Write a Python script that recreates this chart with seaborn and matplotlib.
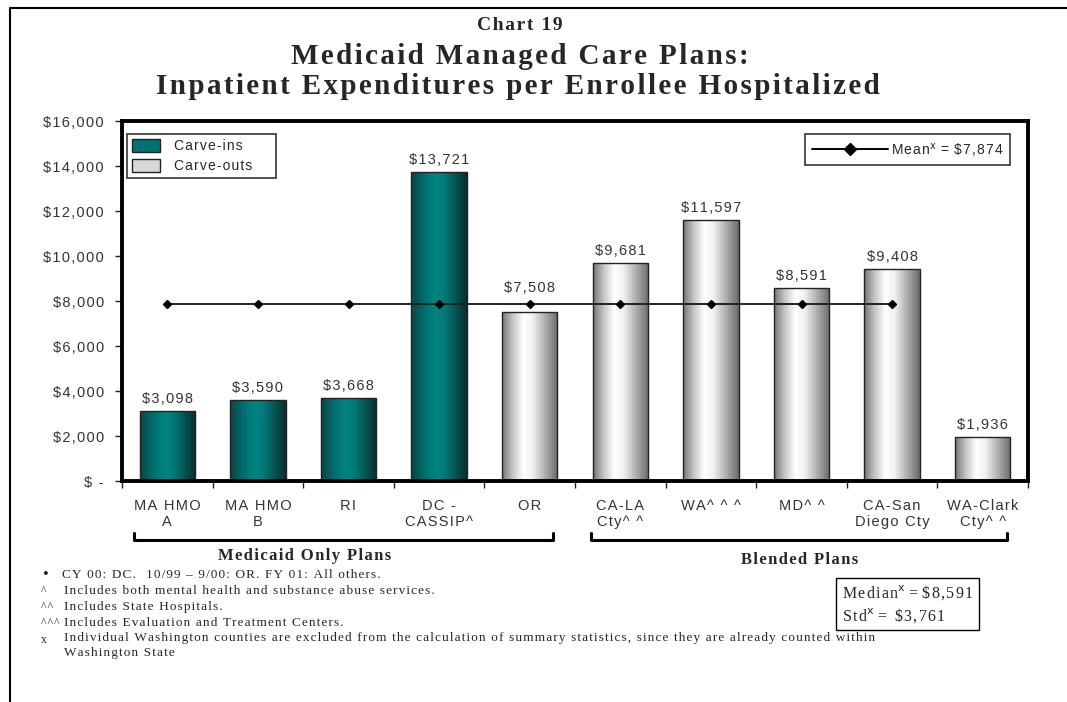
import numpy as np
import pandas as pd
import matplotlib
matplotlib.use("Agg")
import matplotlib.pyplot as plt
import seaborn as sns
from matplotlib.colors import LinearSegmentedColormap
from matplotlib.patches import Rectangle
from matplotlib.lines import Line2D

# ---- data ----
plans = ["MA HMO\nA", "MA HMO\nB", "RI", "DC -\nCASSIP^", "OR",
         "CA-LA\nCty^ ^", "WA^ ^ ^", "MD^ ^", "CA-San\nDiego Cty", "WA-Clark\nCty^ ^"]
values = [3098, 3590, 3668, 13721, 7508, 9681, 11597, 8591, 9408, 1936]
types = ["Carve-ins", "Carve-ins", "Carve-ins", "Carve-ins", "Carve-outs",
         "Carve-outs", "Carve-outs", "Carve-outs", "Carve-outs", "Carve-outs"]
mean_value = 7874
mean_n = 9  # mean line spans first 9 plans
yticks = [0, 2000, 4000, 6000, 8000, 10000, 12000, 14000, 16000]
ytick_labels = ["$ -", "$2,000", "$4,000", "$6,000", "$8,000", "$10,000",
                "$12,000", "$14,000", "$16,000"]
footnote_symbols = ["\u2022", "^", "^^", "^^^", "x"]
footnote_texts = [
    "CY 00: DC.  10/99 \u2013 9/00: OR. FY 01: All others.",
    "Includes both mental health and substance abuse services.",
    "Includes State Hospitals.",
    "Includes Evaluation and Treatment Centers.",
    "Individual Washington counties are excluded from the calculation of summary statistics, since they are already counted within\nWashington State",
]

HS = "\u200a"


def sp(s):
    """add hair spaces between characters (letter spacing)"""
    return "\n".join(HS.join(list(line)) for line in s.split("\n"))


df = pd.DataFrame({"plan": plans, "value": values, "type": types})

sns.set_theme(style="white")
SANS = ["Liberation Sans", "DejaVu Sans"]
SERIF = ["Liberation Serif", "DejaVu Serif"]
plt.rcParams["font.family"] = SANS

fig = plt.figure(figsize=(10.67, 7.02), dpi=100)
ax = fig.add_axes([122/1067, 1-481/702, 906/1067, 360/702])

palette = {"Carve-ins": "#008080", "Carve-outs": "#d0d0d0"}
sns.barplot(data=df, x="plan", y="value", hue="type", palette=palette,
            dodge=False, width=0.61, ax=ax, legend=False,
            edgecolor="#222222", linewidth=1.0, saturation=1)

teal_cmap = LinearSegmentedColormap.from_list(
    "teal", [(0, "#0d4444"), (0.25, "#017070"), (0.45, "#008582"), (0.6, "#017a78"), (1, "#0a2e2e")])
gray_cmap = LinearSegmentedColormap.from_list(
    "gray", [(0, "#767676"), (0.2, "#c8c8c8"), (0.38, "#ffffff"), (0.55, "#f0f0f0"), (1, "#6a6a6a")])
grad = np.linspace(0, 1, 256).reshape(1, -1)

bars = [p for p in ax.patches if isinstance(p, Rectangle) and p.get_height() > 0]
bars = sorted(bars, key=lambda p: p.get_x())
for p, t in zip(bars, types):
    x0, w, h = p.get_x(), p.get_width(), p.get_height()
    cmap = teal_cmap if t == "Carve-ins" else gray_cmap
    im = ax.imshow(grad, extent=[x0, x0 + w, 0, h], aspect="auto", cmap=cmap,
                   zorder=p.get_zorder() + 0.1, interpolation="bicubic")
    im.set_clip_path(p)
    p.set_zorder(p.get_zorder() + 0.2)
    p.set_facecolor("none")

# data labels (OR label sits above the mean line)
for i, v in enumerate(values):
    off = 17 if plans[i] == "OR" else 5
    ax.annotate(sp(f"${v:,.0f}"), (i, v), xytext=(0, off), textcoords="offset pixels",
                ha="center", va="bottom", fontsize=10.5, color="#333333")

# mean line
ax.plot(range(mean_n), [mean_value] * mean_n, color="#222222", lw=1.4,
        marker="D", markersize=4.5, markerfacecolor="black", markeredgecolor="black", zorder=5)

ax.set_xlim(-0.5, len(plans) - 0.5)
ax.set_ylim(0, 16000)
ax.set_yticks(yticks)
ax.set_yticklabels([sp(t) for t in ytick_labels], fontsize=10.5, color="#333333")
ax.set_xticks(np.arange(-0.5, len(plans)), labels=[""] * (len(plans) + 1))
ax.set_xticks(np.arange(len(plans)), labels=[sp(p) for p in plans], minor=True)
ax.tick_params(axis="x", which="major", length=5, width=1, color="#222222", direction="out", bottom=True)
ax.tick_params(axis="x", which="minor", length=0, pad=13, labelsize=10.5, labelcolor="#333333")
ax.tick_params(axis="y", length=5, width=1, color="#222222", direction="out", left=True, pad=8)
ax.set_xlabel("")
ax.set_ylabel("")
ax.grid(False)
for s in ax.spines.values():
    s.set_visible(True)
    s.set_color("black")
    s.set_linewidth(2.8)

# legends
h1 = [Rectangle((0, 0), 1, 1, facecolor="#017272", edgecolor="#222222"),
      Rectangle((0, 0), 1, 1, facecolor="#d8d8d8", edgecolor="#222222")]
leg1 = ax.legend(h1, [sp("Carve-ins"), sp("Carve-outs") + "     "], loc="upper left",
                 bbox_to_anchor=(0.006, 0.963), frameon=True, fancybox=False,
                 edgecolor="black", fontsize=10, handlelength=2.0, handleheight=1.0,
                 borderpad=0.35, labelspacing=0.45, handletextpad=1.0, borderaxespad=0)
leg1.get_frame().set_linewidth(1.2)
leg1.get_frame().set_facecolor("white")
leg1.set_zorder(10)
ax.add_artist(leg1)
h2 = [Line2D([0], [0], color="black", lw=1.4, marker="D", markersize=6,
             markevery=[0, 1])]
mean_lab = sp("Mean") + "$^{\\mathrm{x}}$" + HS + " = " + HS + "\\$" + HS + sp("7,874")
leg2 = ax.legend(h2, [mean_lab], loc="upper right",
                 bbox_to_anchor=(0.9805, 0.965), frameon=True, fancybox=False,
                 edgecolor="black", fontsize=10, handlelength=5.5,
                 borderpad=0.5, handletextpad=0.2, borderaxespad=0)
leg2.get_frame().set_linewidth(1.2)
leg2.set_zorder(10)

# titles
fig.text(520/1067, 1-25/702, sp("Chart 19"), ha="center", va="center",
         fontsize=14, fontweight="bold", family=SERIF)
fig.text(520/1067, 1-57/702, sp("Medicaid Managed Care Plans:"), ha="center", va="center",
         fontsize=21, fontweight="bold", family=SERIF)
fig.text(518/1067, 1-86/702, sp("Inpatient Expenditures per Enrollee Hospitalized"),
         ha="center", va="center", fontsize=21, fontweight="bold", family=SERIF)


# brackets
def bracket(x0, x1, y, ytop):
    fig.add_artist(Line2D([x0/1067, x0/1067, x1/1067, x1/1067],
                          [1-ytop/702, 1-y/702, 1-y/702, 1-ytop/702],
                          color="black", lw=2.2, transform=fig.transFigure))


bracket(134, 553, 540, 533)
bracket(591, 1007, 540, 533)
fig.text(305/1067, 1-556/702, sp("Medicaid Only Plans"), ha="center", va="center",
         fontsize=12, fontweight="bold", family=SERIF)
fig.text(800/1067, 1-560/702, sp("Blended Plans"), ha="center", va="center",
         fontsize=12, fontweight="bold", family=SERIF)

# footnotes
ys = [575, 591, 607, 623, 640]
for sym, txt, yy in zip(footnote_symbols, footnote_texts, ys):
    if sym == "\u2022":
        fig.text(45/1067, 1-yy/702, sym, ha="center", va="center", fontsize=12, family=SERIF)
        fig.text(62/1067, 1-yy/702, sp(txt), ha="left", va="center", fontsize=9.5, family=SERIF)
    else:
        fig.text(41/1067, 1-yy/702, sp(sym), ha="left", va="center", fontsize=8.5, family=SERIF)
        multi = "\n" in txt
        fig.text(64/1067, 1-(yy - 8 if multi else yy)/702, sp(txt), ha="left",
                 va="top" if multi else "center",
                 fontsize=9.5, family=SERIF, linespacing=1.35)

# median / std box
box_txt = (sp("Median") + "$^{\\mathrm{x}}$" + " = " + "\\$" + HS + sp("8,591") + "\n"
           + sp("Std") + "$^{\\mathrm{x}}$" + " =  " + "\\$" + HS + sp("3,761"))
fig.text(842/1067, 1-604/702, box_txt,
         ha="left", va="center", fontsize=11.5, family=SERIF, linespacing=1.3,
         bbox=dict(boxstyle="square,pad=0.35", facecolor="white", edgecolor="black", lw=1.0))

# outer frame (top and left)
fig.add_artist(Line2D([10/1067, 10/1067, 1.0], [0, 1-8/702, 1-8/702],
                      color="black", lw=1.5, transform=fig.transFigure))

fig.savefig("out.png", dpi=100)
